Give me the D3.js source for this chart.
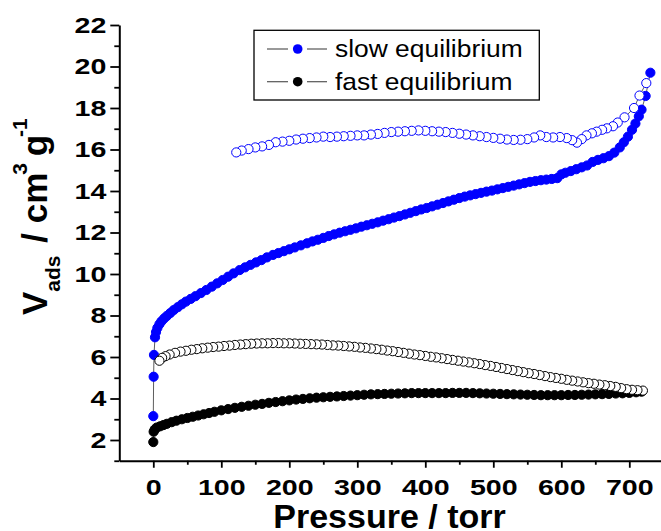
<!DOCTYPE html>
<html>
<head>
<meta charset="utf-8">
<script src="https://cdn.jsdelivr.net/npm/d3@7"></script>
<style>
  body { margin: 0; background: #fff; }
  svg { display: block; }
</style>
</head>
<body>
<div id="chart"></div>
<script>
// slow equilibrium, adsorption branch (filled blue)
const slowAdsP = [0, 0.5, 1, 2.5, 4, 6, 9, 12, 16, 20, 25, 30, 36, 42, 48, 55, 62, 70, 78, 86, 94, 102, 110, 118, 127, 135, 143, 151, 159, 167, 176, 184, 192, 200, 208, 217, 226, 234, 242, 250, 258, 266, 274, 282, 290, 298, 306, 314, 322, 330, 338, 346, 354, 362, 370, 378, 386, 394, 402, 410, 418, 426, 434, 442, 450, 458, 466, 474, 482, 490, 498, 506, 514, 522, 530, 538, 546, 554, 562, 570, 578, 586, 594, 600, 606, 614, 622, 630, 638, 646, 654, 662, 670, 678, 686, 692, 698, 704, 709, 714, 718, 724, 731];
const slowAdsV = [3.15, 5.05, 6.1, 6.95, 7.2, 7.4, 7.58, 7.72, 7.86, 7.98, 8.12, 8.26, 8.4, 8.54, 8.67, 8.8, 8.93, 9.08, 9.23, 9.39, 9.55, 9.71, 9.87, 10.03, 10.19, 10.32, 10.44, 10.56, 10.67, 10.8, 10.92, 11.01, 11.1, 11.19, 11.28, 11.38, 11.48, 11.57, 11.65, 11.74, 11.83, 11.91, 11.99, 12.06, 12.13, 12.2, 12.28, 12.35, 12.42, 12.49, 12.57, 12.64, 12.72, 12.79, 12.87, 12.95, 13.03, 13.11, 13.18, 13.26, 13.34, 13.42, 13.5, 13.58, 13.66, 13.73, 13.79, 13.85, 13.91, 13.97, 14.02, 14.08, 14.14, 14.2, 14.26, 14.32, 14.38, 14.44, 14.48, 14.52, 14.55, 14.58, 14.62, 14.8, 14.88, 14.96, 15.05, 15.14, 15.23, 15.4, 15.5, 15.58, 15.68, 15.85, 16.1, 16.35, 16.62, 16.95, 17.25, 17.6, 17.92, 18.58, 19.7];

// slow equilibrium, desorption branch (open blue)
const slowDesP = [725, 715, 707, 693, 683, 676, 667, 660, 652, 645, 637, 630, 623, 616, 608, 598, 588, 578, 569, 560, 550, 540, 530, 520, 510, 500, 490, 480, 470, 460, 450, 440, 430, 420, 410, 400, 390, 380, 370, 360, 350, 340, 330, 320, 310, 300, 290, 280, 270, 260, 250, 240, 230, 220, 210, 200, 190, 180, 170, 160, 150, 140, 130, 122];
const slowDesV = [19.2, 18.6, 18.0, 17.55, 17.3, 17.12, 17.02, 16.95, 16.86, 16.78, 16.68, 16.5, 16.33, 16.45, 16.55, 16.6, 16.58, 16.6, 16.68, 16.58, 16.5, 16.47, 16.46, 16.48, 16.52, 16.56, 16.6, 16.64, 16.68, 16.72, 16.76, 16.8, 16.84, 16.86, 16.88, 16.9, 16.92, 16.9, 16.88, 16.86, 16.84, 16.8, 16.75, 16.72, 16.68, 16.68, 16.66, 16.64, 16.62, 16.6, 16.62, 16.58, 16.55, 16.52, 16.48, 16.42, 16.38, 16.35, 16.22, 16.15, 16.1, 16.02, 15.95, 15.86];

// fast equilibrium, adsorption branch (filled black)
const fastAdsP = [0, 0.5, 2, 5, 10, 15, 20, 27, 34, 42, 50, 58, 66, 74, 82, 90, 100, 110, 120, 130, 140, 150, 160, 170, 180, 190, 200, 210, 220, 230, 240, 250, 260, 270, 280, 290, 300, 310, 320, 330, 340, 350, 360, 370, 380, 390, 400, 410, 420, 430, 440, 450, 460, 470, 480, 490, 500, 510, 520, 530, 540, 550, 560, 570, 580, 590, 600, 610, 620, 630, 640, 650, 660, 670, 680, 690, 700, 710, 718];
const fastAdsV = [1.9, 2.4, 2.5, 2.6, 2.66, 2.72, 2.78, 2.86, 2.93, 3.0, 3.06, 3.12, 3.18, 3.24, 3.3, 3.36, 3.43, 3.49, 3.55, 3.6, 3.65, 3.7, 3.74, 3.79, 3.83, 3.87, 3.91, 3.95, 3.98, 4.01, 4.04, 4.06, 4.08, 4.1, 4.12, 4.14, 4.16, 4.18, 4.2, 4.21, 4.22, 4.23, 4.24, 4.25, 4.26, 4.26, 4.26, 4.26, 4.26, 4.26, 4.27, 4.27, 4.27, 4.26, 4.25, 4.24, 4.23, 4.22, 4.21, 4.2, 4.19, 4.18, 4.17, 4.16, 4.16, 4.16, 4.16, 4.17, 4.17, 4.18, 4.19, 4.2, 4.21, 4.22, 4.24, 4.25, 4.27, 4.3, 4.33];

// fast equilibrium, desorption branch (open black)
const fastDesP = [720, 712, 704, 696, 688, 680, 672, 664, 656, 648, 640, 632, 624, 616, 608, 600, 592, 584, 576, 568, 560, 552, 544, 536, 528, 520, 512, 504, 496, 488, 480, 472, 464, 456, 448, 440, 432, 424, 416, 408, 400, 392, 384, 376, 368, 360, 352, 344, 336, 328, 320, 312, 304, 296, 288, 280, 272, 264, 256, 248, 240, 232, 224, 216, 208, 200, 192, 184, 176, 168, 160, 152, 144, 136, 128, 120, 112, 104, 96, 88, 80, 72, 64, 56, 48, 40, 32, 24, 18, 13, 9];
const fastDesV = [4.38, 4.4, 4.42, 4.45, 4.5, 4.56, 4.6, 4.64, 4.67, 4.71, 4.74, 4.78, 4.82, 4.86, 4.9, 4.95, 4.99, 5.03, 5.08, 5.13, 5.18, 5.22, 5.27, 5.32, 5.37, 5.42, 5.47, 5.52, 5.57, 5.61, 5.66, 5.7, 5.74, 5.78, 5.82, 5.86, 5.9, 5.94, 5.98, 6.01, 6.05, 6.09, 6.12, 6.16, 6.2, 6.24, 6.28, 6.31, 6.35, 6.38, 6.41, 6.44, 6.46, 6.49, 6.51, 6.53, 6.55, 6.56, 6.58, 6.6, 6.61, 6.62, 6.63, 6.64, 6.65, 6.66, 6.66, 6.67, 6.67, 6.66, 6.66, 6.65, 6.64, 6.62, 6.6, 6.58, 6.55, 6.53, 6.5, 6.48, 6.45, 6.42, 6.38, 6.35, 6.3, 6.26, 6.2, 6.12, 6.04, 5.96, 5.82];

const xMajor = [0, 100, 200, 300, 400, 500, 600, 700];
const xMinor = [50, 150, 250, 350, 450, 550, 650, 750];
const yMajor = [2, 4, 6, 8, 10, 12, 14, 16, 18, 20, 22];
const yMinor = [1, 3, 5, 7, 9, 11, 13, 15, 17, 19, 21];
const legendLabels = ['slow equilibrium', 'fast equilibrium'];
const legendColors = ['#0000ff', '#000000'];

const FONT = '"Liberation Sans", Arial, sans-serif';
const width = 661, height = 531;

const svg = d3.select('#chart').append('svg')
  .attr('width', width)
  .attr('height', height)
  .style('font-family', FONT);

const x = d3.scaleLinear().domain([-50, 750]).range([119.3, 663.3]);
const y = d3.scaleLinear().domain([1, 22]).range([460.75, 25]);

// X axis
const xAxis = svg.append('g')
  .attr('transform', `translate(0,${y(1)})`)
  .call(d3.axisBottom(x).tickValues(xMajor).tickSize(7).tickSizeOuter(0).tickFormat(d3.format('d')));
xAxis.append('g')
  .call(d3.axisBottom(x).tickValues(xMinor).tickSize(4).tickFormat(''))
  .select('.domain').remove();
xAxis.selectAll('.domain').attr('stroke-width', 2);
xAxis.selectAll('.tick line').attr('stroke-width', 1.8);
xAxis.selectAll('.tick text')
  .attr('y', 34.3)
  .attr('dy', 0)
  .attr('transform', 'scale(1.3,1)')
  .style('font-size', '22px')
  .style('font-weight', 'bold')
  .style('font-family', FONT)
  .attr('fill', '#000');

// Y axis
const yAxis = svg.append('g')
  .attr('transform', `translate(${x(-50)},0)`)
  .call(d3.axisLeft(y).tickValues(yMajor).tickSize(9).tickPadding(4).tickSizeOuter(0));
yAxis.append('g')
  .call(d3.axisLeft(y).tickValues(yMinor).tickSize(5).tickFormat(''))
  .select('.domain').remove();
yAxis.selectAll('.domain').attr('stroke-width', 2);
yAxis.selectAll('.tick line').attr('stroke-width', 1.8);
yAxis.selectAll('.tick text')
  .attr('transform', 'translate(-13,0) scale(1.3,1) translate(13,0)')
  .style('font-size', '22px')
  .style('font-weight', 'bold')
  .style('font-family', FONT)
  .attr('fill', '#000');

// Axis titles
svg.append('text')
  .attr('x', 389.5)
  .attr('y', 527.5)
  .attr('text-anchor', 'middle')
  .style('font-size', '34px')
  .style('font-weight', 'bold')
  .text('Pressure / torr');

const yTitle = svg.append('text')
  .attr('transform', 'translate(46.7,315) rotate(-90)')
  .style('font-weight', 'bold')
  .style('font-size', '35px');
yTitle.append('tspan').text('V');
yTitle.append('tspan').attr('dy', 13).style('font-size', '21px').text('ads');
yTitle.append('tspan').attr('dy', -13).attr('dx', 3).text(' / cm');
yTitle.append('tspan').attr('dy', -20).attr('dx', -2).style('font-size', '21px').text('3');
yTitle.append('tspan').attr('dy', 20).attr('dx', -3).text(' g');
yTitle.append('tspan').attr('dy', -20).attr('dx', -2).style('font-size', '21px').text('-1');

// Series
const series = [
  { p: slowAdsP, v: slowAdsV, color: '#0000ff', filled: true },
  { p: fastAdsP, v: fastAdsV, color: '#000000', filled: true },
  { p: slowDesP, v: slowDesV, color: '#0000ff', filled: false },
  { p: fastDesP, v: fastDesV, color: '#000000', filled: false }
];

const line = d3.line().x(d => x(d[0])).y(d => y(d[1]));

series.forEach(s => {
  const pts = s.p.map((p, i) => [p, s.v[i]]);
  svg.append('path')
    .datum(pts)
    .attr('fill', 'none')
    .attr('stroke', '#333')
    .attr('stroke-width', 0.8)
    .attr('d', line);
  svg.append('g')
    .selectAll('circle')
    .data(pts)
    .enter()
    .append('circle')
      .attr('cx', d => x(d[0]))
      .attr('cy', d => y(d[1]))
      .attr('r', 4.6)
      .attr('fill', s.filled ? s.color : '#fff')
      .attr('stroke', s.color)
      .attr('stroke-width', 1);
});

// Legend
const legend = svg.append('g');
legend.append('rect')
  .attr('x', 254)
  .attr('y', 30.3)
  .attr('width', 285.3)
  .attr('height', 69.7)
  .attr('fill', '#fff')
  .attr('stroke', '#000')
  .attr('stroke-width', 1.3);

const items = legend.selectAll('.item')
  .data(legendLabels)
  .enter().append('g')
  .attr('class', 'item')
  .attr('transform', (d, i) => `translate(0,${i * 32.7})`);

items.append('line')
  .attr('x1', 267).attr('x2', 288).attr('y1', 49).attr('y2', 49)
  .attr('stroke', '#555').attr('stroke-width', 1.2);
items.append('line')
  .attr('x1', 307).attr('x2', 327).attr('y1', 49).attr('y2', 49)
  .attr('stroke', '#555').attr('stroke-width', 1.2);
items.append('circle')
  .attr('cx', 297.7).attr('cy', 49).attr('r', 4.8)
  .attr('fill', (d, i) => legendColors[i]);
items.append('text')
  .attr('x', 335)
  .attr('y', 57)
  .attr('transform', 'translate(335,0) scale(1.1,1) translate(-335,0)')
  .style('font-size', '24px')
  .text(d => d);
</script>
</body>
</html>
